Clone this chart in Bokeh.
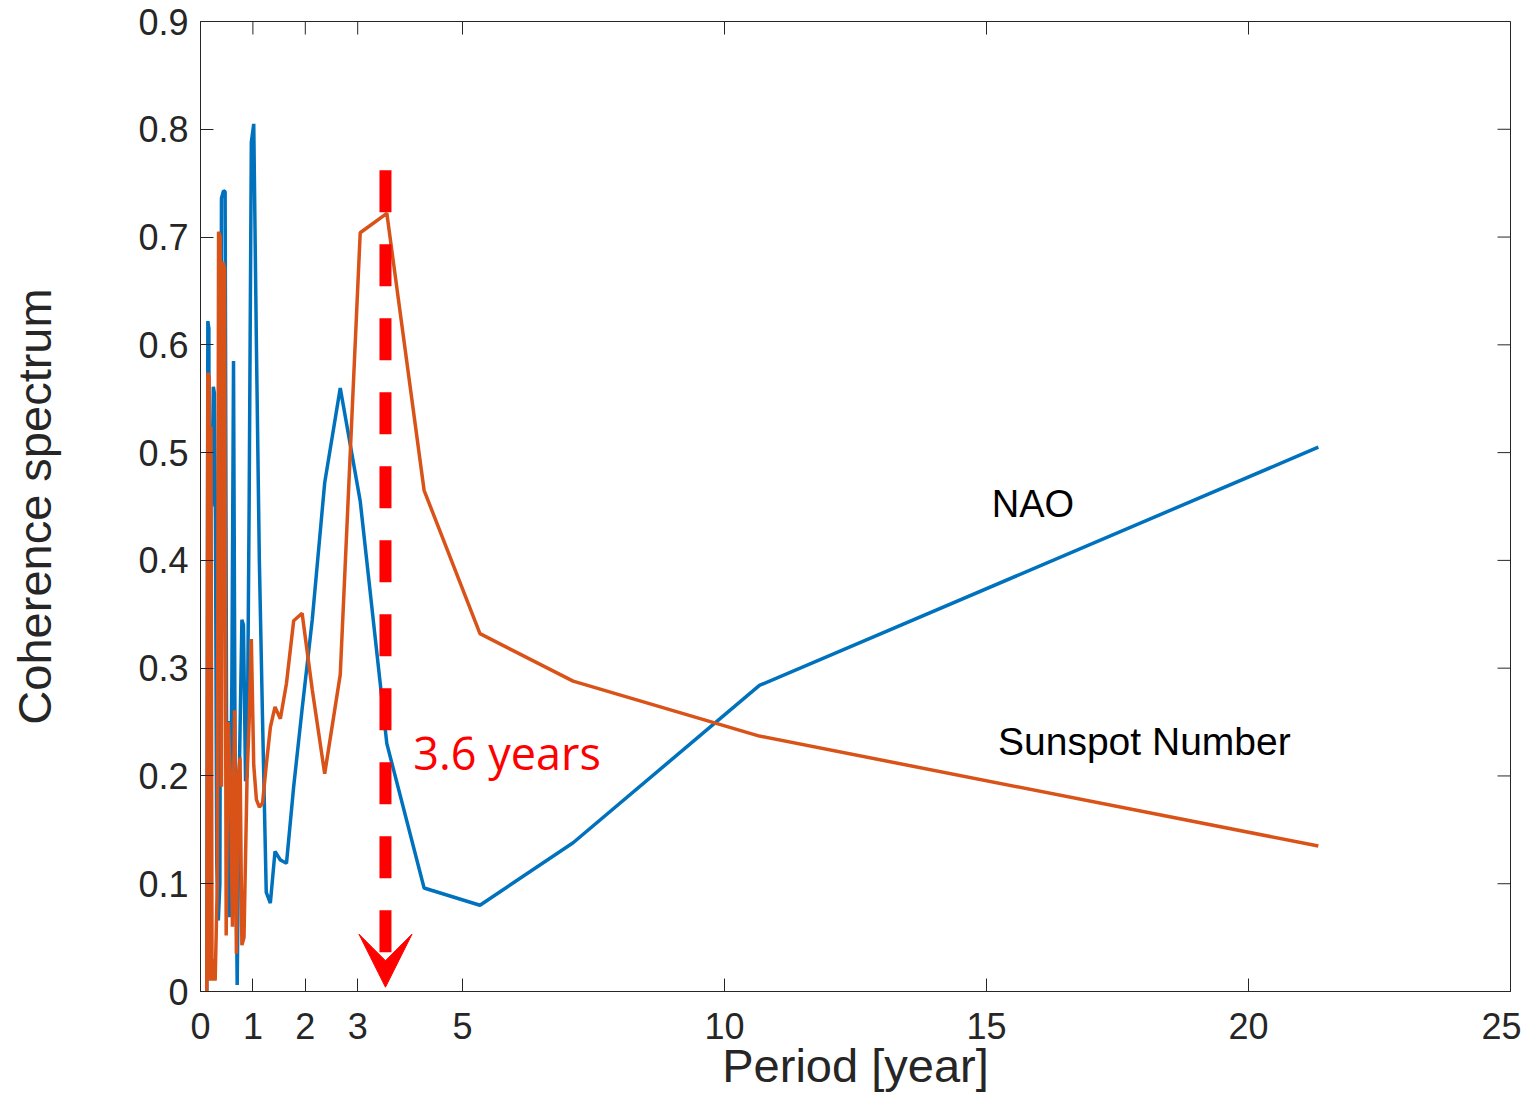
from bokeh.plotting import figure
from bokeh.models import (FixedTicker, CustomJSTickFormatter, Range1d,
                          Label, Arrow, VeeHead)
from bokeh.embed import file_html
from bokeh.resources import INLINE

# ---------------- data ----------------
# long periods: 21.333/k years (shared by both series)
long_period = [0.970, 1.016, 1.067, 1.123, 1.185, 1.255, 1.333, 1.422, 1.524, 1.641,
               1.778, 1.939, 2.133, 2.370, 2.667, 3.048, 3.556, 4.267, 5.333, 7.111,
               10.667, 21.333]
nao_long = [0.788, 0.805, 0.600, 0.400, 0.250, 0.092, 0.082, 0.130, 0.122, 0.119,
            0.190, 0.262, 0.345, 0.472, 0.560, 0.455, 0.230, 0.096, 0.080, 0.138,
            0.284, 0.505]
ssn_long = [0.327, 0.210, 0.178, 0.171, 0.175, 0.210, 0.245, 0.264, 0.253, 0.286,
            0.344, 0.351, 0.280, 0.202, 0.294, 0.704, 0.722, 0.465, 0.332, 0.288,
            0.237, 0.135]

# short periods (dense part, < 1 year)
nao_short_period = [0.12, 0.14, 0.16, 0.175, 0.195, 0.215, 0.245, 0.265, 0.285, 0.31,
                    0.34, 0.37, 0.40, 0.44, 0.47, 0.50, 0.53, 0.56, 0.60, 0.63,
                    0.66, 0.70, 0.74, 0.79, 0.82, 0.86, 0.889, 0.928]
nao_short = [0.000, 0.622, 0.615, 0.020, 0.470, 0.450, 0.561, 0.555, 0.440, 0.120,
             0.066, 0.100, 0.736, 0.743, 0.742, 0.190, 0.251, 0.069, 0.300, 0.585,
             0.220, 0.006, 0.200, 0.345, 0.340, 0.195, 0.200, 0.450]

ssn_short_period = [0.12, 0.14, 0.165, 0.18, 0.20, 0.22, 0.25, 0.28, 0.32, 0.345,
                    0.375, 0.40, 0.43, 0.46, 0.49, 0.53, 0.57, 0.61, 0.65, 0.685,
                    0.72, 0.755, 0.79, 0.83, 0.889, 0.928]
ssn_short = [0.000, 0.574, 0.570, 0.010, 0.524, 0.010, 0.030, 0.010, 0.100, 0.705,
             0.700, 0.190, 0.677, 0.670, 0.052, 0.250, 0.200, 0.060, 0.261, 0.035,
             0.200, 0.217, 0.043, 0.050, 0.200, 0.250]

nao_period = nao_short_period + long_period
nao_coh = nao_short + nao_long
ssn_period = ssn_short_period + long_period
ssn_coh = ssn_short + ssn_long

x_ticks = [0, 1, 2, 3, 5, 10, 15, 20, 25]
y_ticks = [0, 0.1, 0.2, 0.3, 0.4, 0.5, 0.6, 0.7, 0.8, 0.9]
x_min, x_max = 0, 25
y_min, y_max = 0, 0.9
marked_period = 3.53
marked_top = 0.762

AX = "#262626"
FONT = "Liberation Sans"

W, H = 1521, 1096
BL, BR, BT, BB = 200, 11, 21, 105
frame_w = W - BL - BR
frame_h = H - BT - BB
TICK = 13

p = figure(width=W, height=H, output_backend="svg", toolbar_location=None,
           x_range=Range1d(x_min, x_max), y_range=Range1d(y_min, y_max),
           min_border_left=BL, min_border_right=BR, min_border_top=BT,
           min_border_bottom=BB)
p.xgrid.visible = False
p.ygrid.visible = False
p.outline_line_color = AX
p.outline_line_width = 1
p.background_fill_color = "white"

fmt = CustomJSTickFormatter(code="return String(Number(tick.toFixed(2)));")

for ax, ticks in ((p.xaxis[0], x_ticks), (p.yaxis[0], y_ticks)):
    ax.ticker = FixedTicker(ticks=ticks)
    ax.formatter = fmt
    ax.axis_line_color = AX
    ax.major_tick_line_color = AX
    ax.major_tick_in = TICK
    ax.major_tick_out = 0
    ax.minor_tick_line_color = None
    ax.major_label_text_color = AX
    ax.major_label_text_font = FONT
    ax.major_label_text_font_size = "36px"
    ax.axis_label_text_font = FONT
    ax.axis_label_text_font_size = "47px"
    ax.axis_label_text_font_style = "normal"
    ax.axis_label_text_color = AX
p.xaxis[0].major_label_standoff = 21
p.yaxis[0].major_label_standoff = 12

p.xaxis[0].axis_label = "Period [year]"
p.xaxis[0].axis_label_standoff = -3
p.yaxis[0].axis_label = "Coherence spectrum"
p.yaxis[0].axis_label_standoff = 74

# inward ticks on the top and right edges of the box
dy = TICK / frame_h * (y_max - y_min)
dx = TICK / frame_w * (x_max - x_min)
p.segment(x0=x_ticks, y0=[y_max] * len(x_ticks), x1=x_ticks,
          y1=[y_max - dy] * len(x_ticks), line_color=AX, line_width=1)
p.segment(x0=[x_max] * len(y_ticks), y0=y_ticks, x1=[x_max - dx] * len(y_ticks),
          y1=y_ticks, line_color=AX, line_width=1)

p.line(nao_period, nao_coh, line_color="#0072BD", line_width=3.5)
p.line(ssn_period, ssn_coh, line_color="#D95319", line_width=3.5)

p.add_layout(Arrow(end=VeeHead(size=53, fill_color="#FF0000", line_color="#FF0000",
                               line_width=1),
                   x_start=marked_period, y_start=marked_top,
                   x_end=marked_period, y_end=0.004,
                   line_color="#FF0000", line_width=12, line_dash="42 32"))

p.add_layout(Label(x=15.1, y=0.452, text="NAO", text_font=FONT,
                   text_font_size="38px", text_color="black", text_baseline="middle"))
p.add_layout(Label(x=15.22, y=0.232, text="Sunspot Number", text_font=FONT,
                   text_font_size="39px", text_color="black", text_baseline="middle"))
p.add_layout(Label(x=4.06, y=0.222, text="3.6 years", text_font="Open Sans",
                   text_font_size="45px", text_color="#FF0000", text_baseline="middle"))

open("out.html", "w").write(file_html(p, INLINE))
